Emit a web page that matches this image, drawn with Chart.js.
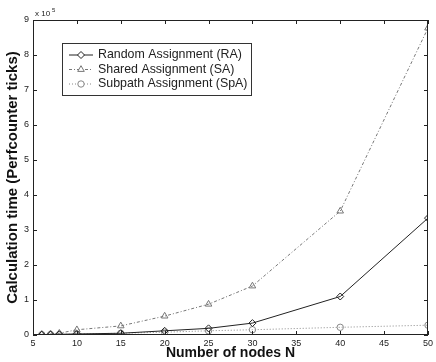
<!DOCTYPE html>
<html>
<head>
<meta charset="utf-8">
<script src="https://cdn.jsdelivr.net/npm/chart.js@4/dist/chart.umd.min.js"></script>
<style>
  html, body { margin: 0; padding: 0; background: #fff; }
  #wrap { width: 436px; height: 362px; }
</style>
</head>
<body>
<div id="wrap"><canvas id="c" width="436" height="362"></canvas></div>
<script>
// Node counts and calculation times (in units of 1e5 perfcounter ticks)
const nodes = [6, 7, 8, 10, 15, 20, 25, 30, 40, 50];
const randomAssign = [0.01, 0.015, 0.02, 0.03, 0.05, 0.12, 0.19, 0.34, 1.1, 3.34];
const sharedAssign = [0.02, 0.03, 0.05, 0.15, 0.26, 0.54, 0.88, 1.4, 3.54, 8.77];
const subpathAssign = [0.01, 0.012, 0.015, 0.03, 0.05, 0.08, 0.12, 0.15, 0.22, 0.28];
const xTicks = [5, 10, 15, 20, 25, 30, 35, 40, 45, 50];
const yTicks = [0, 1, 2, 3, 4, 5, 6, 7, 8, 9];
const seriesNames = ['Random Assignment (RA)', 'Shared Assignment (SA)', 'Subpath Assignment (SpA)'];

const pts = arr => nodes.map((n, i) => ({ x: n, y: arr[i] }));
const FONT = '"Liberation Sans", Arial, sans-serif';

const styles = [
  { color: '#222', dash: [], marker: 'rectRot', r: 3.5 },
  { color: '#777', dash: [3, 2, 1, 2], marker: 'triangle', r: 3.8 },
  { color: '#888', dash: [1, 2], marker: 'circle', r: 3.2 }
];

// Box with inward ticks on all four sides, exponent note and legend
const framePlugin = {
  id: 'frame',
  afterDraw(chart) {
    const { ctx, chartArea: a, scales } = chart;
    const xs = scales.x, ys = scales.y;
    ctx.save();
    ctx.strokeStyle = '#222';
    ctx.lineWidth = 1;
    ctx.setLineDash([]);
    ctx.strokeRect(a.left + 0.5, a.top + 0.5, a.right - a.left - 1, a.bottom - a.top - 1);
    const t = 4;
    ctx.beginPath();
    xTicks.forEach(v => {
      const px = Math.round(xs.getPixelForValue(v)) + 0.5;
      ctx.moveTo(px, a.bottom); ctx.lineTo(px, a.bottom - t);
      ctx.moveTo(px, a.top); ctx.lineTo(px, a.top + t);
    });
    yTicks.forEach(v => {
      const py = Math.round(ys.getPixelForValue(v)) + 0.5;
      ctx.moveTo(a.left, py); ctx.lineTo(a.left + t, py);
      ctx.moveTo(a.right, py); ctx.lineTo(a.right - t, py);
    });
    ctx.stroke();

    // exponent
    ctx.fillStyle = '#222';
    ctx.font = '8px ' + FONT;
    ctx.textBaseline = 'alphabetic';
    ctx.textAlign = 'left';
    ctx.fillText('x 10', a.left + 2, a.top - 4);
    ctx.font = '6px ' + FONT;
    ctx.fillText('5', a.left + 19, a.top - 8);

    // legend
    const lx = 62, ly = 43, lw = 189, lh = 52;
    ctx.fillStyle = '#fff';
    ctx.fillRect(lx, ly, lw, lh);
    ctx.strokeStyle = '#333';
    ctx.lineWidth = 1;
    ctx.strokeRect(lx + 0.5, ly + 0.5, lw, lh);
    ctx.font = '12.4px ' + FONT;
    ctx.textBaseline = 'middle';
    seriesNames.forEach((name, i) => {
      const s = styles[i];
      const cy = ly + 12 + i * 14.5;
      ctx.strokeStyle = s.color;
      ctx.setLineDash(s.dash);
      ctx.beginPath();
      ctx.moveTo(lx + 7, cy); ctx.lineTo(lx + 31, cy);
      ctx.stroke();
      ctx.setLineDash([]);
      ctx.fillStyle = '#fff';
      Chart.helpers.drawPoint(ctx, { pointStyle: s.marker, radius: s.r, borderWidth: 1 }, lx + 19, cy);
      ctx.fillStyle = '#222';
      ctx.fillText(name, lx + 36, cy);
    });
    ctx.restore();
  }
};

const datasets = [randomAssign, sharedAssign, subpathAssign].map((arr, i) => ({
  label: seriesNames[i],
  data: pts(arr),
  borderColor: styles[i].color,
  backgroundColor: 'rgba(255,255,255,0)',
  borderWidth: 1,
  borderDash: styles[i].dash,
  pointStyle: styles[i].marker,
  pointRadius: styles[i].r,
  pointBorderColor: styles[i].color,
  pointBorderWidth: 1,
  pointBackgroundColor: 'rgba(255,255,255,0)',
  tension: 0
}));

new Chart(document.getElementById('c'), {
  type: 'line',
  data: { datasets },
  options: {
    responsive: false,
    animation: false,
    layout: { padding: { left: 4, right: 2, top: 20, bottom: 0 } },
    plugins: { legend: { display: false }, tooltip: { enabled: false } },
    scales: {
      x: {
        type: 'linear', min: 5, max: 50,
        afterBuildTicks: s => { s.ticks = xTicks.map(v => ({ value: v })); },
        afterFit: s => { s.height = 27; },
        grid: { display: false, drawTicks: false },
        border: { display: false },
        ticks: { color: '#222', font: { family: FONT, size: 9 }, padding: 3, maxRotation: 0 },
        title: { display: true, text: 'Number of nodes N', color: '#111',
                 font: { family: FONT, size: 14, weight: 'bold' }, padding: { top: -2, bottom: 0 } }
      },
      y: {
        type: 'linear', min: 0, max: 9,
        afterBuildTicks: s => { s.ticks = yTicks.map(v => ({ value: v })); },
        afterFit: s => { s.width = 29; },
        grid: { display: false, drawTicks: false },
        border: { display: false },
        ticks: { color: '#222', font: { family: FONT, size: 9 }, padding: 4 },
        title: { display: true, text: 'Calculation time (Perfcounter ticks)', color: '#111',
                 font: { family: FONT, size: 15, weight: 'bold' }, padding: { top: 0, bottom: 0 } }
      }
    }
  },
  plugins: [framePlugin]
});
</script>
</body>
</html>
